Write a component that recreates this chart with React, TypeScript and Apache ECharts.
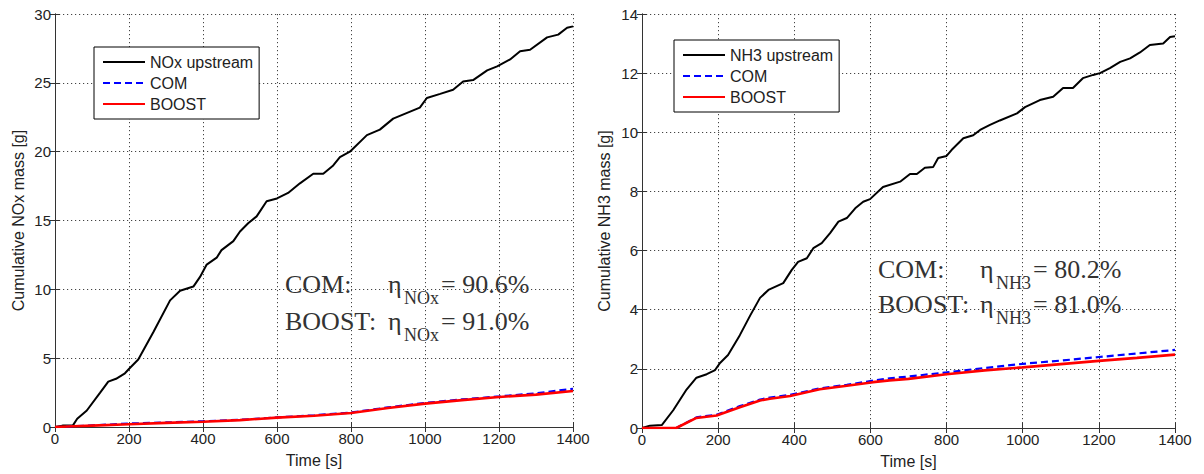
import React, { useEffect, useRef } from "react";
import * as echarts from "echarts";

// ---------- Data ----------
const xTicksMax = 1400;

// Left panel: NOx
const noxUpT = [0, 20, 48, 60, 86, 122, 144, 165, 189, 203, 225, 266, 311, 338, 374, 392, 410, 437, 450, 482, 500, 522, 545, 572, 600, 630, 662, 698, 725, 752, 770, 797, 843, 878, 914, 950, 986, 1005, 1041, 1076, 1103, 1130, 1168, 1195, 1230, 1257, 1284, 1330, 1360, 1384, 1400];
const noxUpV = [0, 0.1, 0.1, 0.6, 1.2, 2.5, 3.3, 3.5, 3.9, 4.3, 4.9, 6.9, 9.2, 9.9, 10.2, 10.9, 11.8, 12.3, 12.85, 13.5, 14.2, 14.8, 15.3, 16.4, 16.6, 17.0, 17.7, 18.4, 18.4, 19.0, 19.6, 20.0, 21.2, 21.6, 22.4, 22.8, 23.2, 23.9, 24.2, 24.5, 25.1, 25.2, 25.9, 26.2, 26.7, 27.3, 27.4, 28.3, 28.5, 29.0, 29.1];
const noxDownT = [0, 50, 100, 200, 300, 400, 500, 600, 700, 800, 900, 1000, 1100, 1200, 1300, 1400];
const noxComV = [0, 0.05, 0.12, 0.25, 0.33, 0.42, 0.52, 0.7, 0.85, 1.05, 1.42, 1.75, 2.0, 2.22, 2.45, 2.78];
const noxBoostV = [0, 0.05, 0.1, 0.2, 0.3, 0.38, 0.5, 0.68, 0.82, 1.02, 1.38, 1.7, 1.95, 2.18, 2.35, 2.62];

// Right panel: NH3
const nh3UpT = [0, 21, 52, 82, 117, 143, 170, 192, 205, 226, 257, 284, 310, 332, 371, 393, 410, 433, 450, 472, 494, 516, 538, 560, 581, 599, 633, 678, 704, 722, 743, 765, 778, 800, 813, 844, 870, 888, 914, 940, 985, 1006, 1045, 1080, 1106, 1132, 1158, 1185, 1203, 1229, 1256, 1282, 1308, 1334, 1369, 1387, 1400];
const nh3UpV = [0, 0.08, 0.1, 0.6, 1.3, 1.7, 1.82, 1.96, 2.2, 2.47, 3.14, 3.8, 4.4, 4.67, 4.9, 5.34, 5.62, 5.74, 6.08, 6.25, 6.59, 6.98, 7.1, 7.43, 7.65, 7.74, 8.15, 8.33, 8.59, 8.59, 8.8, 8.83, 9.13, 9.2, 9.4, 9.8, 9.9, 10.08, 10.25, 10.4, 10.64, 10.85, 11.09, 11.2, 11.5, 11.5, 11.83, 11.94, 12.0, 12.17, 12.38, 12.5, 12.7, 12.95, 13.0, 13.22, 13.25];
const nh3DownT = [0, 90, 143, 196, 257, 310, 336, 389, 467, 538, 607, 650, 700, 800, 900, 1000, 1100, 1200, 1300, 1400];
const nh3ComV = [0, 0, 0.36, 0.45, 0.74, 0.96, 1.03, 1.12, 1.34, 1.46, 1.6, 1.68, 1.74, 1.88, 2.03, 2.17, 2.28, 2.4, 2.52, 2.64];
const nh3BoostV = [0, 0, 0.34, 0.42, 0.7, 0.93, 0.99, 1.08, 1.31, 1.43, 1.55, 1.61, 1.66, 1.82, 1.95, 2.05, 2.16, 2.27, 2.37, 2.48];

const leftLegend = ["NOx upstream", "COM", "BOOST"];
const rightLegend = ["NH3 upstream", "COM", "BOOST"];
const leftAnno = ["COM:", "BOOST:"];
const leftEta = ["= 90.6%", "= 91.0%"];
const rightEta = ["= 80.2%", "= 81.0%"];

const zip = (t: number[], v: number[]) => t.map((x, i) => [x, v[i]]);

const SANS = '"Liberation Sans", Arial, sans-serif';
const SERIF = '"Liberation Serif", "Times New Roman", serif';
const AXIS_COLOR = "#333";
const GRID_COLOR = "#444";

function makeAxes(gridIndex: number, kind: "x" | "y", max: number, interval: number, name: string, nameGap: number) {
  const main: any = {
    gridIndex,
    type: "value",
    min: 0,
    max,
    interval,
    position: kind === "x" ? "bottom" : "left",
    name,
    nameLocation: "middle",
    nameGap,
    nameTextStyle: { fontFamily: SANS, fontSize: 16, color: "#222" },
    axisLine: { show: true, lineStyle: { color: AXIS_COLOR, width: 1 } },
    axisTick: { show: true, inside: true, length: 5, lineStyle: { color: AXIS_COLOR } },
    axisLabel: {
      fontFamily: SANS,
      fontSize: 15,
      color: "#222",
      margin: 4,
      showMinLabel: true,
      showMaxLabel: true,
      formatter: (v: number) => String(v),
    },
    splitLine: { show: true, lineStyle: { color: GRID_COLOR, width: 1, type: [1.2, 2.8] } },
  };
  const mirror: any = {
    gridIndex,
    type: "value",
    min: 0,
    max,
    interval,
    position: kind === "x" ? "top" : "right",
    axisLine: { show: true, lineStyle: { color: AXIS_COLOR, width: 1 } },
    axisTick: { show: true, inside: true, length: 5, lineStyle: { color: AXIS_COLOR } },
    axisLabel: { show: false },
    splitLine: { show: false },
  };
  return [main, mirror];
}

function annoTexts(x0: number, xEta: number, baselines: number[], labels: string[], sub: string, vals: string[]) {
  const els: any[] = [];
  baselines.forEach((b, i) => {
    const mid = b - 8.8;
    els.push({ type: "text", x: x0, y: mid, style: { text: labels[i], font: `26px ${SERIF}`, fill: "#333", verticalAlign: "middle", align: "left" } });
    els.push({ type: "text", x: xEta, y: mid, style: { text: "η", font: `26px ${SERIF}`, fill: "#333", verticalAlign: "middle", align: "left" } });
    els.push({ type: "text", x: xEta + 16, y: b + 11 - 6, style: { text: sub, font: `18px ${SERIF}`, fill: "#333", verticalAlign: "middle", align: "left" } });
    els.push({ type: "text", x: xEta + 53, y: mid, style: { text: vals[i], font: `26px ${SERIF}`, fill: "#333", verticalAlign: "middle", align: "left" } });
  });
  return els;
}

function legendCfg(data: string[], left: number, top: number) {
  return {
    data,
    orient: "vertical",
    left,
    top,
    padding: [7, 6, 7, 8],
    itemGap: 5,
    itemWidth: 42,
    itemHeight: 16,
    borderColor: "#000",
    borderWidth: 1,
    backgroundColor: "#fff",
    itemStyle: { opacity: 0 },
    textStyle: { fontFamily: SANS, fontSize: 16, color: "#222" },
  };
}

export default function App() {
  const ref = useRef<HTMLDivElement>(null);
  useEffect(() => {
    document.body.style.margin = "0";
    if (!ref.current) return;
    const chart = echarts.init(ref.current, undefined, { renderer: "svg" });
    const [lx, lx2] = makeAxes(0, "x", xTicksMax, 200, "Time [s]", 25);
    const [rx, rx2] = makeAxes(1, "x", xTicksMax, 200, "Time [s]", 25);
    const [ly, ly2] = makeAxes(0, "y", 30, 5, "Cumulative NOx mass [g]", 29);
    const [ry, ry2] = makeAxes(1, "y", 14, 2, "Cumulative NH3 mass [g]", 30);

    const lineSeries = (name: string, data: number[][], xi: number, yi: number, color: string, width: number, type: any, z: number) => ({
      name,
      type: "line",
      xAxisIndex: xi,
      yAxisIndex: yi,
      data,
      showSymbol: false,
      symbol: "none",
      z,
      lineStyle: { color, width, type },
      itemStyle: { color },
    });

    chart.setOption({
      animation: false,
      backgroundColor: "#fff",
      grid: [
        { left: 55, top: 14, width: 518, height: 413 },
        { left: 642, top: 14, width: 533, height: 414 },
      ],
      xAxis: [lx, lx2, rx, rx2],
      yAxis: [ly, ly2, ry, ry2],
      legend: [legendCfg(leftLegend, 94, 47), legendCfg(rightLegend, 674, 40)],
      series: [
        lineSeries(leftLegend[0], zip(noxUpT, noxUpV), 0, 0, "#000", 2, "solid", 3),
        lineSeries(leftLegend[1], zip(noxDownT, noxComV), 0, 0, "#0000ff", 2.2, [7, 4], 4),
        lineSeries(leftLegend[2], zip(noxDownT, noxBoostV), 0, 0, "#ff0000", 2.6, "solid", 5),
        lineSeries(rightLegend[0], zip(nh3UpT, nh3UpV), 2, 2, "#000", 2, "solid", 3),
        lineSeries(rightLegend[1], zip(nh3DownT, nh3ComV), 2, 2, "#0000ff", 2.2, [7, 4], 4),
        lineSeries(rightLegend[2], zip(nh3DownT, nh3BoostV), 2, 2, "#ff0000", 2.6, "solid", 5),
      ],
      graphic: [
        ...annoTexts(285, 388, [293, 330], leftAnno, "NOx", leftEta),
        ...annoTexts(878, 980, [278, 313], leftAnno, "NH3", rightEta),
      ],
    });
    return () => chart.dispose();
  }, []);
  return <div ref={ref} style={{ width: 1204, height: 474 }} />;
}
